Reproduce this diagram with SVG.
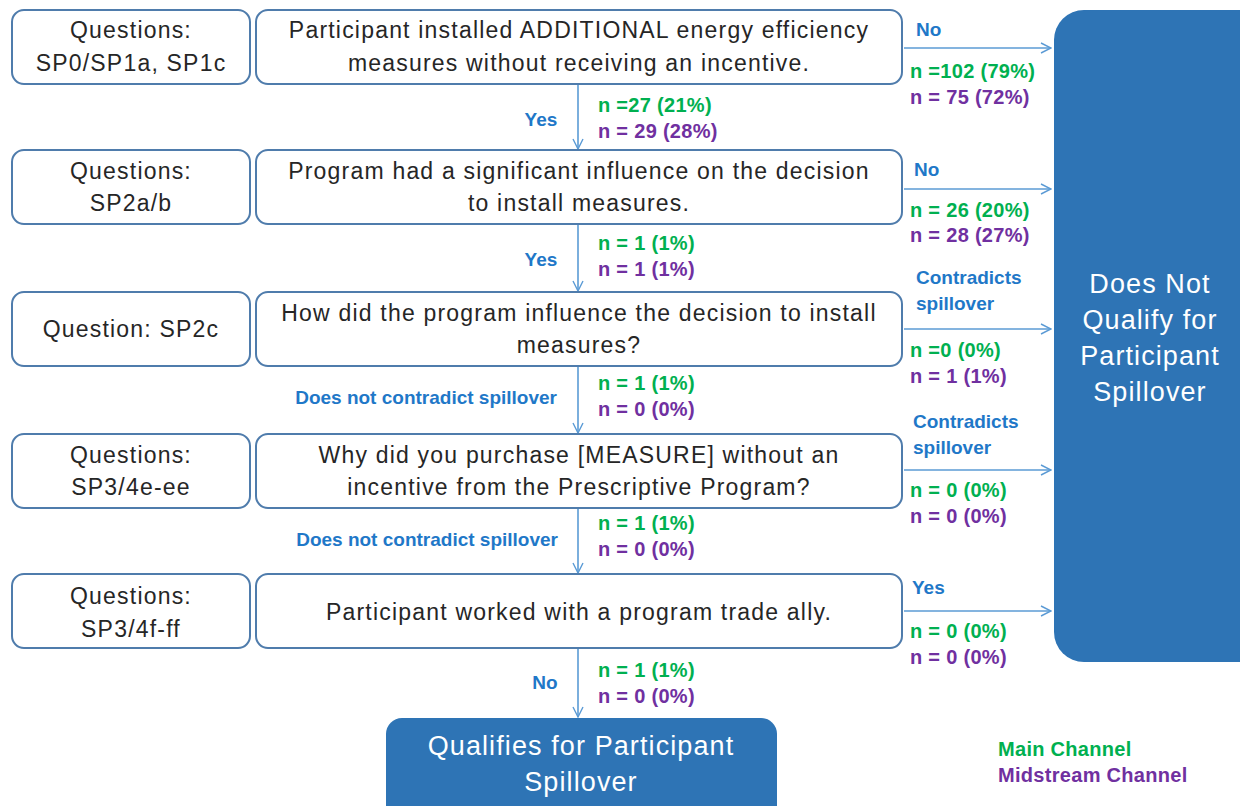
<svg xmlns="http://www.w3.org/2000/svg" width="1240" height="806" viewBox="0 0 1240 806">
  <defs>
    <marker id="arrow" viewBox="0 0 12 12" refX="11" refY="6" markerWidth="12" markerHeight="12" markerUnits="userSpaceOnUse" orient="auto">
      <path d="M1,1 L11,6 L1,11" fill="none" stroke="#5B9BD5" stroke-width="1.4"/>
    </marker>
  </defs>
  <style>
    .box { fill: #ffffff; stroke: #4F7CAC; stroke-width: 2; }
    .term { fill: #2E74B5; }
    .txt { font-family: "Liberation Sans", Arial, sans-serif; font-size: 23px; letter-spacing: 1.2px; fill: #262626; text-anchor: middle; }
    .wt { font-family: "Liberation Sans", Arial, sans-serif; font-size: 27px; letter-spacing: 1.1px; fill: #ffffff; text-anchor: middle; }
    .lbl { font-family: "Liberation Sans", Arial, sans-serif; font-weight: bold; font-size: 19px; letter-spacing: 0px; fill: #1F78C8; }
    .g { font-family: "Liberation Sans", Arial, sans-serif; font-weight: bold; font-size: 20px; letter-spacing: 0.3px; fill: #00B050; }
    .p { font-family: "Liberation Sans", Arial, sans-serif; font-weight: bold; font-size: 20px; letter-spacing: 0.3px; fill: #7030A0; }
    .conn { stroke: #5B9BD5; stroke-width: 1.6; fill: none; marker-end: url(#arrow); }
  </style>

  <rect width="1240" height="806" fill="#ffffff"/>

  <!-- connectors -->
  <g id="connectors">
    <line class="conn" x1="578" y1="85" x2="578" y2="149"/>
    <line class="conn" x1="578" y1="225" x2="578" y2="291"/>
    <line class="conn" x1="578" y1="367" x2="578" y2="433"/>
    <line class="conn" x1="578" y1="509" x2="578" y2="573"/>
    <line class="conn" x1="578" y1="649" x2="578" y2="717"/>
    <line class="conn" x1="904" y1="48" x2="1051" y2="48"/>
    <line class="conn" x1="904" y1="189" x2="1051" y2="189"/>
    <line class="conn" x1="904" y1="329" x2="1051" y2="329"/>
    <line class="conn" x1="904" y1="470" x2="1051" y2="470"/>
    <line class="conn" x1="904" y1="611" x2="1051" y2="611"/>

    <!-- branch labels and counts -->
    <text class="lbl" x="916" y="36">No</text>
    <text class="g" x="910" y="78">n =102 (79%)</text>
    <text class="p" x="910" y="104">n = 75 (72%)</text>

    <text class="lbl" x="541" y="126" text-anchor="middle">Yes</text>
    <text class="g" x="598" y="112">n =27 (21%)</text>
    <text class="p" x="598" y="138">n = 29 (28%)</text>

    <text class="lbl" x="914" y="176">No</text>
    <text class="g" x="910" y="217">n = 26 (20%)</text>
    <text class="p" x="910" y="242">n = 28 (27%)</text>

    <text class="lbl" x="541" y="266" text-anchor="middle">Yes</text>
    <text class="g" x="598" y="250">n = 1 (1%)</text>
    <text class="p" x="598" y="276">n = 1 (1%)</text>

    <text class="lbl" x="916" y="284">Contradicts</text>
    <text class="lbl" x="916" y="310">spillover</text>
    <text class="g" x="910" y="357">n =0 (0%)</text>
    <text class="p" x="910" y="383">n = 1 (1%)</text>

    <text class="lbl" x="557" y="404" text-anchor="end">Does not contradict spillover</text>
    <text class="g" x="598" y="390">n = 1 (1%)</text>
    <text class="p" x="598" y="416">n = 0 (0%)</text>

    <text class="lbl" x="913" y="428">Contradicts</text>
    <text class="lbl" x="913" y="454">spillover</text>
    <text class="g" x="910" y="497">n = 0 (0%)</text>
    <text class="p" x="910" y="523">n = 0 (0%)</text>

    <text class="lbl" x="558" y="546" text-anchor="end">Does not contradict spillover</text>
    <text class="g" x="598" y="530">n = 1 (1%)</text>
    <text class="p" x="598" y="556">n = 0 (0%)</text>

    <text class="lbl" x="912" y="594">Yes</text>
    <text class="g" x="910" y="638">n = 0 (0%)</text>
    <text class="p" x="910" y="664">n = 0 (0%)</text>

    <text class="lbl" x="545" y="689" text-anchor="middle">No</text>
    <text class="g" x="598" y="677">n = 1 (1%)</text>
    <text class="p" x="598" y="703">n = 0 (0%)</text>
  </g>

  <!-- row 1 -->
  <g id="q1">
    <rect class="box" x="12" y="10" width="238" height="74" rx="12"/>
    <text class="txt" x="131" y="38">Questions:</text>
    <text class="txt" x="131" y="71">SP0/SP1a, SP1c</text>
  </g>
  <g id="d1">
    <rect class="box" x="256" y="10" width="646" height="74" rx="12"/>
    <text class="txt" x="579" y="38">Participant installed ADDITIONAL energy efficiency</text>
    <text class="txt" x="579" y="71">measures without receiving an incentive.</text>
  </g>

  <!-- row 2 -->
  <g id="q2">
    <rect class="box" x="12" y="150" width="238" height="74" rx="12"/>
    <text class="txt" x="131" y="179">Questions:</text>
    <text class="txt" x="131" y="211">SP2a/b</text>
  </g>
  <g id="d2">
    <rect class="box" x="256" y="150" width="646" height="74" rx="12"/>
    <text class="txt" x="579" y="179">Program had a significant influence on the decision</text>
    <text class="txt" x="579" y="211">to install measures.</text>
  </g>

  <!-- row 3 -->
  <g id="q3">
    <rect class="box" x="12" y="292" width="238" height="74" rx="12"/>
    <text class="txt" x="131" y="337">Question: SP2c</text>
  </g>
  <g id="d3">
    <rect class="box" x="256" y="292" width="646" height="74" rx="12"/>
    <text class="txt" x="579" y="321">How did the program influence the decision to install</text>
    <text class="txt" x="579" y="353">measures?</text>
  </g>

  <!-- row 4 -->
  <g id="q4">
    <rect class="box" x="12" y="434" width="238" height="74" rx="12"/>
    <text class="txt" x="131" y="463">Questions:</text>
    <text class="txt" x="131" y="495">SP3/4e-ee</text>
  </g>
  <g id="d4">
    <rect class="box" x="256" y="434" width="646" height="74" rx="12"/>
    <text class="txt" x="579" y="463">Why did you purchase [MEASURE] without an</text>
    <text class="txt" x="579" y="495">incentive from the Prescriptive Program?</text>
  </g>

  <!-- row 5 -->
  <g id="q5">
    <rect class="box" x="12" y="574" width="238" height="74" rx="12"/>
    <text class="txt" x="131" y="604">Questions:</text>
    <text class="txt" x="131" y="637">SP3/4f-ff</text>
  </g>
  <g id="d5">
    <rect class="box" x="256" y="574" width="646" height="74" rx="12"/>
    <text class="txt" x="579" y="620">Participant worked with a program trade ally.</text>
  </g>

  <!-- outcomes -->
  <g id="notQualify">
    <rect class="term" x="1054" y="10" width="220" height="652" rx="30"/>
    <text class="wt" x="1150" y="293">Does Not</text>
    <text class="wt" x="1150" y="329">Qualify for</text>
    <text class="wt" x="1150" y="365">Participant</text>
    <text class="wt" x="1150" y="401">Spillover</text>
  </g>
  <g id="qualifies">
    <rect class="term" x="386" y="718" width="391" height="110" rx="16"/>
    <text class="wt" x="581" y="755">Qualifies for Participant</text>
    <text class="wt" x="581" y="791">Spillover</text>
  </g>

  <!-- legend -->
  <g id="legend">
    <text class="g" x="998" y="756">Main Channel</text>
    <text class="p" x="998" y="782">Midstream Channel</text>
  </g>
</svg>
